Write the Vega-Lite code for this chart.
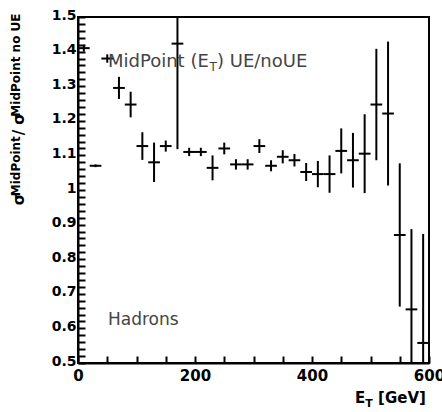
{
  "$schema": "https://vega.github.io/schema/vega-lite/v6.json",
  "width": 351,
  "height": 346,
  "autosize": "none",
  "padding": {"left": 78, "top": 17, "right": 13, "bottom": 49},
  "config": {"view": {"stroke": "black", "strokeWidth": 2}},
  "datasets": {
    "pts": [
      {"x": 10, "xlo": 0, "xhi": 20, "y": 1.41, "ylo": 1.40, "yhi": 1.42},
      {"x": 30, "xlo": 20, "xhi": 40, "y": 1.07, "ylo": 1.066, "yhi": 1.074},
      {"x": 50, "xlo": 40, "xhi": 60, "y": 1.38, "ylo": 1.368, "yhi": 1.392},
      {"x": 70, "xlo": 60, "xhi": 80, "y": 1.295, "ylo": 1.263, "yhi": 1.327},
      {"x": 90, "xlo": 80, "xhi": 100, "y": 1.247, "ylo": 1.21, "yhi": 1.284},
      {"x": 110, "xlo": 100, "xhi": 120, "y": 1.127, "ylo": 1.087, "yhi": 1.167},
      {"x": 130, "xlo": 120, "xhi": 140, "y": 1.08, "ylo": 1.023, "yhi": 1.137},
      {"x": 150, "xlo": 140, "xhi": 160, "y": 1.127, "ylo": 1.111, "yhi": 1.143},
      {"x": 170, "xlo": 160, "xhi": 180, "y": 1.423, "ylo": 1.118, "yhi": 1.5},
      {"x": 190, "xlo": 180, "xhi": 200, "y": 1.11, "ylo": 1.098, "yhi": 1.122},
      {"x": 210, "xlo": 200, "xhi": 220, "y": 1.11, "ylo": 1.098, "yhi": 1.122},
      {"x": 230, "xlo": 220, "xhi": 240, "y": 1.064, "ylo": 1.028, "yhi": 1.1},
      {"x": 250, "xlo": 240, "xhi": 260, "y": 1.12, "ylo": 1.103, "yhi": 1.137},
      {"x": 270, "xlo": 260, "xhi": 280, "y": 1.074, "ylo": 1.059, "yhi": 1.089},
      {"x": 290, "xlo": 280, "xhi": 300, "y": 1.074, "ylo": 1.059, "yhi": 1.089},
      {"x": 310, "xlo": 300, "xhi": 320, "y": 1.127, "ylo": 1.107, "yhi": 1.147},
      {"x": 330, "xlo": 320, "xhi": 340, "y": 1.07, "ylo": 1.054, "yhi": 1.086},
      {"x": 350, "xlo": 340, "xhi": 360, "y": 1.096, "ylo": 1.077, "yhi": 1.115},
      {"x": 370, "xlo": 360, "xhi": 380, "y": 1.086, "ylo": 1.068, "yhi": 1.104},
      {"x": 390, "xlo": 380, "xhi": 400, "y": 1.052, "ylo": 1.026, "yhi": 1.078},
      {"x": 410, "xlo": 400, "xhi": 420, "y": 1.046, "ylo": 1.008, "yhi": 1.084},
      {"x": 430, "xlo": 420, "xhi": 440, "y": 1.046, "ylo": 0.992, "yhi": 1.1},
      {"x": 450, "xlo": 440, "xhi": 460, "y": 1.113, "ylo": 1.048, "yhi": 1.178},
      {"x": 470, "xlo": 460, "xhi": 480, "y": 1.086, "ylo": 1.007, "yhi": 1.165},
      {"x": 490, "xlo": 480, "xhi": 500, "y": 1.105, "ylo": 0.991, "yhi": 1.219},
      {"x": 510, "xlo": 500, "xhi": 520, "y": 1.247, "ylo": 1.086, "yhi": 1.408},
      {"x": 530, "xlo": 520, "xhi": 540, "y": 1.221, "ylo": 1.013, "yhi": 1.429},
      {"x": 550, "xlo": 540, "xhi": 560, "y": 0.87, "ylo": 0.663, "yhi": 1.077},
      {"x": 570, "xlo": 560, "xhi": 580, "y": 0.655, "ylo": 0.5, "yhi": 0.887},
      {"x": 590, "xlo": 580, "xhi": 600, "y": 0.558, "ylo": 0.5, "yhi": 0.873}
    ],
    "one": [{}]
  },
  "layer": [
    {
      "data": {"name": "pts"},
      "mark": {"type": "rule", "color": "black", "strokeWidth": 2},
      "encoding": {
        "x": {"field": "x", "type": "quantitative",
          "scale": {"domain": [0, 600], "nice": false, "zero": false},
          "axis": {"title": null, "grid": false, "tickCount": 12,
            "labelExpr": "datum.value % 200 === 0 ? format(datum.value, 'd') : ''",
            "tickSize": -7, "tickWidth": 2, "tickColor": "black", "domainWidth": 2, "domainColor": "black",
            "labelFont": "DejaVu Sans", "labelFontWeight": "bold", "labelFontSize": 15, "labelColor": "black",
            "labelPadding": 12, "labelOverlap": false, "labelFlush": false}},
        "y": {"field": "ylo", "type": "quantitative",
          "scale": {"domain": [0.5, 1.5], "nice": false, "zero": false},
          "axis": {"title": null, "grid": false, "tickCount": 50,
            "labelExpr": "abs(datum.value*10 - round(datum.value*10)) < 0.001 ? (abs(datum.value - 1) < 0.001 ? '1' : format(datum.value, '.1f')) : ''",
            "tickSize": -7, "tickWidth": 2, "tickColor": "black", "domainWidth": 2, "domainColor": "black",
            "labelFont": "DejaVu Sans", "labelFontWeight": "bold", "labelFontSize": 14, "labelColor": "black",
            "labelPadding": 9, "labelOffset": -2, "labelOverlap": false}},
        "y2": {"field": "yhi"}
      }
    },
    {
      "data": {"name": "pts"},
      "mark": {"type": "rule", "color": "black", "strokeWidth": 2},
      "encoding": {
        "x": {"field": "xlo", "type": "quantitative", "scale": {"domain": [0, 600], "nice": false, "zero": false}},
        "x2": {"field": "xhi"},
        "y": {"field": "y", "type": "quantitative", "scale": {"domain": [0.5, 1.5], "nice": false, "zero": false}}
      }
    },
    {
      "data": {"name": "one"},
      "mark": {"type": "text", "align": "left", "baseline": "alphabetic", "font": "DejaVu Sans", "fontSize": 18, "color": "#444444"},
      "encoding": {
        "x": {"datum": 51.3, "type": "quantitative"},
        "y": {"datum": 1.355, "type": "quantitative"},
        "text": {"value": "MidPoint (E"}
      }
    },
    {
      "data": {"name": "one"},
      "mark": {"type": "text", "align": "left", "baseline": "alphabetic", "font": "DejaVu Sans", "fontSize": 12, "color": "#444444"},
      "encoding": {
        "x": {"datum": 224.8, "type": "quantitative"},
        "y": {"datum": 1.343, "type": "quantitative"},
        "text": {"value": "T"}
      }
    },
    {
      "data": {"name": "one"},
      "mark": {"type": "text", "align": "left", "baseline": "alphabetic", "font": "DejaVu Sans", "fontSize": 18, "color": "#444444"},
      "encoding": {
        "x": {"datum": 237.6, "type": "quantitative"},
        "y": {"datum": 1.355, "type": "quantitative"},
        "text": {"value": ") UE/noUE"}
      }
    },
    {
      "data": {"name": "one"},
      "mark": {"type": "text", "align": "left", "baseline": "alphabetic", "font": "DejaVu Sans", "fontSize": 17, "color": "#444444"},
      "encoding": {
        "x": {"datum": 51.3, "type": "quantitative"},
        "y": {"datum": 0.61, "type": "quantitative"},
        "text": {"value": "Hadrons"}
      }
    },
    {
      "data": {"name": "one"},
      "mark": {"type": "text", "align": "left", "baseline": "alphabetic", "font": "DejaVu Sans", "fontWeight": "bold", "fontSize": 15, "color": "black"},
      "encoding": {
        "x": {"datum": 473.5, "type": "quantitative"},
        "y": {"datum": 0.3845, "type": "quantitative"},
        "text": {"value": "E"}
      }
    },
    {
      "data": {"name": "one"},
      "mark": {"type": "text", "align": "left", "baseline": "alphabetic", "font": "DejaVu Sans", "fontWeight": "bold", "fontSize": 11, "color": "black"},
      "encoding": {
        "x": {"datum": 491, "type": "quantitative"},
        "y": {"datum": 0.373, "type": "quantitative"},
        "text": {"value": "T"}
      }
    },
    {
      "data": {"name": "one"},
      "mark": {"type": "text", "align": "left", "baseline": "alphabetic", "font": "DejaVu Sans", "fontWeight": "bold", "fontSize": 15, "color": "black"},
      "encoding": {
        "x": {"datum": 513, "type": "quantitative"},
        "y": {"datum": 0.3845, "type": "quantitative"},
        "text": {"value": "[GeV]"}
      }
    },
    {
      "data": {"name": "one"},
      "mark": {"type": "text", "align": "left", "baseline": "alphabetic", "angle": 270, "font": "DejaVu Sans", "fontWeight": "bold", "fontSize": 15, "color": "black"},
      "encoding": {
        "x": {"datum": -92.3, "type": "quantitative"},
        "y": {"datum": 0.956, "type": "quantitative"},
        "text": {"value": "σ"}
      }
    },
    {
      "data": {"name": "one"},
      "mark": {"type": "text", "align": "left", "baseline": "alphabetic", "angle": 270, "font": "DejaVu Sans", "fontWeight": "bold", "fontSize": 12, "color": "black"},
      "encoding": {
        "x": {"datum": -99.1, "type": "quantitative"},
        "y": {"datum": 0.982, "type": "quantitative"},
        "text": {"value": "MidPoint"}
      }
    },
    {
      "data": {"name": "one"},
      "mark": {"type": "text", "align": "left", "baseline": "alphabetic", "angle": 270, "font": "DejaVu Sans", "fontWeight": "bold", "fontSize": 15, "color": "black"},
      "encoding": {
        "x": {"datum": -92.3, "type": "quantitative"},
        "y": {"datum": 1.158, "type": "quantitative"},
        "text": {"value": "/ σ"}
      }
    },
    {
      "data": {"name": "one"},
      "mark": {"type": "text", "align": "left", "baseline": "alphabetic", "angle": 270, "font": "DejaVu Sans", "fontWeight": "bold", "fontSize": 12, "color": "black"},
      "encoding": {
        "x": {"datum": -99.1, "type": "quantitative"},
        "y": {"datum": 1.212, "type": "quantitative"},
        "text": {"value": "MidPoint no UE"}
      }
    }
  ]
}
